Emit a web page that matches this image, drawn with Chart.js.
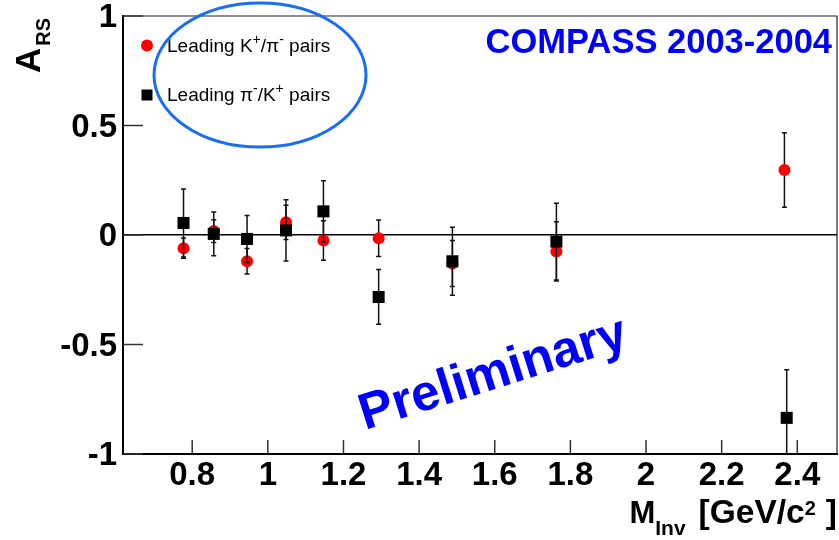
<!DOCTYPE html>
<html><head><meta charset="utf-8">
<script src="https://cdn.jsdelivr.net/npm/chart.js@4/dist/chart.umd.min.js"></script>
<style>html,body{margin:0;padding:0;background:#fff}canvas{display:block}</style>
</head><body>
<canvas id="c" width="839" height="540"></canvas>
<script>
// Leading K+/pi- pairs (red circles)
const massKpi = [0.777, 0.857, 0.945, 1.048, 1.147, 1.293, 1.488, 1.763, 2.366];
const asymKpi = [-0.060, 0.018, -0.120, 0.058, -0.025, -0.015, -0.130, -0.075, 0.297];
const errKpi  = [0.046, 0.052, 0.058, 0.078, 0.090, 0.083, 0.105, 0.135, 0.170];
// Leading pi-/K+ pairs (black squares)
const massPiK = [0.777, 0.857, 0.945, 1.048, 1.147, 1.293, 1.488, 1.763, 2.372];
const asymPiK = [0.055, 0.005, -0.018, 0.021, 0.108, -0.283, -0.120, -0.030, -0.835];
const errPiK  = [0.155, 0.100, 0.107, 0.140, 0.140, 0.125, 0.155, 0.175, 0.220];
// Axes
const xTicks = [0.8, 1, 1.2, 1.4, 1.6, 1.8, 2, 2.2, 2.4];
const xTickLabels = ['0.8', '1', '1.2', '1.4', '1.6', '1.8', '2', '2.2', '2.4'];
const yTicks = [-1, -0.5, 0, 0.5, 1];
const yTickLabels = ['-1', '-0.5', '0', '0.5', '1'];
const xRange = [0.617, 2.505];
const yRange = [-1, 1];

const FONT = "'Liberation Sans', Arial, Helvetica, sans-serif";
const BLUE = '#0000ff';

function richText(ctx, parts, x, y, align) {
  let total = 0;
  parts.forEach(p => { ctx.font = p.font; p.w = ctx.measureText(p.t).width; total += p.w + (p.gap || 0); });
  let cx = align === 'right' ? x - total : x;
  ctx.textAlign = 'left'; ctx.textBaseline = 'alphabetic';
  parts.forEach(p => { cx += (p.gap || 0); ctx.font = p.font; ctx.fillText(p.t, cx, y + (p.dy || 0)); cx += p.w; });
}

function drawErrors(chart, xs, ys, es) {
  const ctx = chart.ctx, sx = chart.scales.x, sy = chart.scales.y, a = chart.chartArea;
  ctx.save();
  ctx.beginPath(); ctx.rect(a.left, a.top, a.right - a.left, a.bottom - a.top); ctx.clip();
  ctx.strokeStyle = '#111'; ctx.lineWidth = 1.5;
  for (let i = 0; i < xs.length; i++) {
    const px = sx.getPixelForValue(xs[i]);
    const t = sy.getPixelForValue(ys[i] + es[i]);
    const b = sy.getPixelForValue(ys[i] - es[i]);
    ctx.beginPath();
    ctx.moveTo(px, t); ctx.lineTo(px, b);
    ctx.moveTo(px - 2.5, t); ctx.lineTo(px + 2.5, t);
    ctx.moveTo(px - 2.5, b); ctx.lineTo(px + 2.5, b);
    ctx.stroke();
  }
  ctx.restore();
}

const errPlugin = {
  id: 'errbars',
  beforeDatasetDraw(chart, args) {
    const d = chart.data.datasets[args.index];
    drawErrors(chart, d.data.map(p => p.x), d.data.map(p => p.y), d.errs);
  }
};

const decoPlugin = {
  id: 'deco',
  afterDraw(chart) {
    const ctx = chart.ctx, a = chart.chartArea, sx = chart.scales.x, sy = chart.scales.y;
    ctx.save();
    // frame top / right
    ctx.strokeStyle = '#222'; ctx.lineWidth = 1.2;
    ctx.beginPath(); ctx.moveTo(a.left, a.top); ctx.lineTo(a.right, a.top); ctx.lineTo(a.right, a.bottom); ctx.stroke();
    // inward ticks
    ctx.strokeStyle = '#333'; ctx.lineWidth = 1.5;
    yTicks.forEach(v => { const py = sy.getPixelForValue(v); ctx.beginPath(); ctx.moveTo(a.left, py); ctx.lineTo(a.left + 20, py); ctx.stroke(); });
    xTicks.forEach(v => { const px = sx.getPixelForValue(v); ctx.beginPath(); ctx.moveTo(px, a.bottom); ctx.lineTo(px, a.bottom - 14); ctx.stroke(); });
    // Y title
    ctx.fillStyle = '#000';
    ctx.save();
    ctx.translate(40, 73); ctx.rotate(-Math.PI / 2);
    richText(ctx, [
      { t: 'A', font: 'bold 35px ' + FONT },
      { t: 'RS', font: 'bold 20px ' + FONT, dy: 10, gap: 2 }
    ], 0, 0, 'left');
    ctx.restore();
    // X title
    richText(ctx, [
      { t: 'M', font: 'bold 31px ' + FONT },
      { t: 'Inv', font: 'bold 21px ' + FONT, dy: 12 },
      { t: '[GeV/c', font: 'bold 33.5px ' + FONT, gap: 13 },
      { t: '2', font: 'bold 20px ' + FONT, dy: -8 },
      { t: ']', font: 'bold 33.5px ' + FONT, gap: 10 }
    ], 837, 523, 'right');
    // COMPASS label
    ctx.fillStyle = BLUE;
    ctx.font = 'bold 34.5px ' + FONT; ctx.textAlign = 'right'; ctx.textBaseline = 'alphabetic';
    ctx.fillText('COMPASS 2003-2004', 832, 53);
    // Preliminary
    ctx.save();
    ctx.translate(365, 430); ctx.rotate(-17.5 * Math.PI / 180);
    ctx.font = 'bold 51px ' + FONT; ctx.textAlign = 'left';
    ctx.fillText('Preliminary', 0, 0);
    ctx.restore();
    // Legend
    ctx.fillStyle = '#ff0000';
    ctx.beginPath(); ctx.arc(147, 45.5, 6, 0, Math.PI * 2); ctx.fill();
    ctx.fillStyle = '#000';
    ctx.fillRect(141.5, 89.5, 11, 11);
    const lf = '19px ' + FONT, sf = '14px ' + FONT;
    richText(ctx, [
      { t: 'Leading K', font: lf }, { t: '+', font: sf, dy: -8 },
      { t: '/\u03c0', font: lf }, { t: '-', font: sf, dy: -8 }, { t: ' pairs', font: lf }
    ], 167, 52, 'left');
    richText(ctx, [
      { t: 'Leading \u03c0', font: lf }, { t: '-', font: sf, dy: -8 },
      { t: '/K', font: lf }, { t: '+', font: sf, dy: -8 }, { t: ' pairs', font: lf }
    ], 167, 101, 'left');
    // Ellipse
    ctx.strokeStyle = '#1a6ef0'; ctx.lineWidth = 3;
    ctx.beginPath(); ctx.ellipse(260, 75, 106, 72, 0, 0, Math.PI * 2); ctx.stroke();
    ctx.restore();
  }
};

new Chart(document.getElementById('c'), {
  type: 'scatter',
  data: {
    datasets: [
      {
        label: 'Leading \u03c0-/K+ pairs',
        data: massPiK.map((x, i) => ({ x, y: asymPiK[i] })),
        errs: errPiK,
        pointStyle: 'rect', pointRadius: 8.5, pointHoverRadius: 8.5,
        backgroundColor: '#000', borderColor: '#000', borderWidth: 0
      },
      {
        label: 'Leading K+/\u03c0- pairs',
        data: massKpi.map((x, i) => ({ x, y: asymKpi[i] })),
        errs: errKpi,
        pointStyle: 'circle', pointRadius: 6, pointHoverRadius: 6,
        backgroundColor: '#ff0000', borderColor: '#ff0000', borderWidth: 0
      }
    ]
  },
  options: {
    responsive: false, animation: false, devicePixelRatio: 1,
    layout: { autoPadding: false, padding: { top: 16, right: 2, left: 0, bottom: 0 } },
    plugins: { legend: { display: false }, tooltip: { enabled: false } },
    scales: {
      x: {
        type: 'linear', min: xRange[0], max: xRange[1],
        afterBuildTicks: s => { s.ticks = xTicks.map(v => ({ value: v })); },
        afterFit: s => { s.height = 86; s.paddingLeft = 0; s.paddingRight = 0; },
        grid: { display: false, drawTicks: false },
        border: { display: true, color: '#000', width: 2 },
        ticks: {
          padding: 2, color: '#000', maxRotation: 0, autoSkip: false,
          font: { family: FONT, size: 33, weight: 'bold' },
          callback: v => xTickLabels[xTicks.indexOf(v)]
        }
      },
      y: {
        type: 'linear', min: yRange[0], max: yRange[1],
        afterBuildTicks: s => { s.ticks = yTicks.map(v => ({ value: v })); },
        afterFit: s => { s.width = 123; s.paddingTop = 0; s.paddingBottom = 0; },
        grid: { drawTicks: false, lineWidth: 1.5, color: c => (c.tick && c.tick.value === 0) ? '#000' : 'rgba(0,0,0,0)' },
        border: { display: true, color: '#000', width: 2 },
        ticks: {
          padding: 6, color: '#000', autoSkip: false, labelOffset: 2,
          font: { family: FONT, size: 33, weight: 'bold' },
          callback: v => yTickLabels[yTicks.indexOf(v)]
        }
      }
    }
  },
  plugins: [errPlugin, decoPlugin]
});
</script>
</body></html>
